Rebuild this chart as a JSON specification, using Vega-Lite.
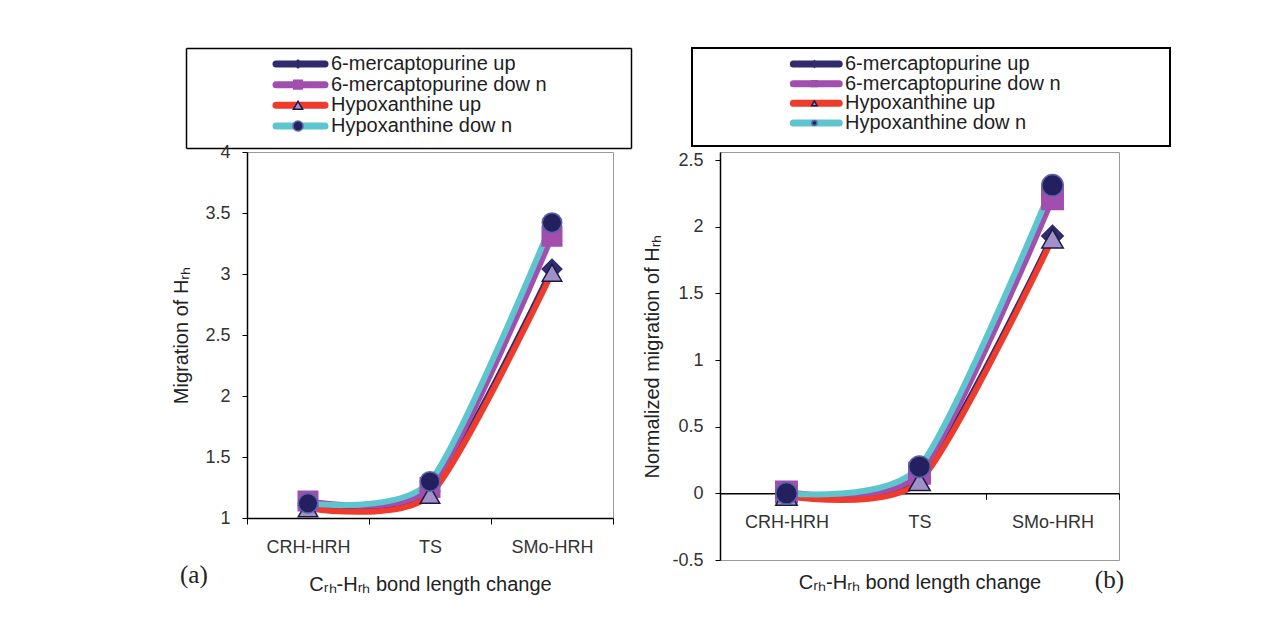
{
  "$schema": "https://vega.github.io/schema/vega-lite/v6.json",
  "background": "white",
  "padding": {"left": 171, "top": 47, "right": 5, "bottom": 5},
  "spacing": -6,
  "resolve": {"scale": {"size": "independent"}},
  "datasets": {
    "leg": [
      {"series": "6-mercaptopurine up"},
      {"series": "6-mercaptopurine dow n"},
      {"series": "Hypoxanthine up"},
      {"series": "Hypoxanthine dow n"}
    ],
    "pts": [
      {"panel": "a", "series": "6-mercaptopurine up", "stage": "CRH-HRH", "value": 1.10},
      {"panel": "a", "series": "6-mercaptopurine up", "stage": "TS", "value": 1.22},
      {"panel": "a", "series": "6-mercaptopurine up", "stage": "SMo-HRH", "value": 3.04},
      {"panel": "a", "series": "6-mercaptopurine dow n", "stage": "CRH-HRH", "value": 1.14},
      {"panel": "a", "series": "6-mercaptopurine dow n", "stage": "TS", "value": 1.25},
      {"panel": "a", "series": "6-mercaptopurine dow n", "stage": "SMo-HRH", "value": 3.31},
      {"panel": "a", "series": "Hypoxanthine up", "stage": "CRH-HRH", "value": 1.08},
      {"panel": "a", "series": "Hypoxanthine up", "stage": "TS", "value": 1.19},
      {"panel": "a", "series": "Hypoxanthine up", "stage": "SMo-HRH", "value": 3.01},
      {"panel": "a", "series": "Hypoxanthine dow n", "stage": "CRH-HRH", "value": 1.12},
      {"panel": "a", "series": "Hypoxanthine dow n", "stage": "TS", "value": 1.30},
      {"panel": "a", "series": "Hypoxanthine dow n", "stage": "SMo-HRH", "value": 3.42},
      {"panel": "b", "series": "6-mercaptopurine up", "stage": "CRH-HRH", "value": 0.0},
      {"panel": "b", "series": "6-mercaptopurine up", "stage": "TS", "value": 0.12},
      {"panel": "b", "series": "6-mercaptopurine up", "stage": "SMo-HRH", "value": 1.93},
      {"panel": "b", "series": "6-mercaptopurine dow n", "stage": "CRH-HRH", "value": 0.01},
      {"panel": "b", "series": "6-mercaptopurine dow n", "stage": "TS", "value": 0.15},
      {"panel": "b", "series": "6-mercaptopurine dow n", "stage": "SMo-HRH", "value": 2.21},
      {"panel": "b", "series": "Hypoxanthine up", "stage": "CRH-HRH", "value": -0.02},
      {"panel": "b", "series": "Hypoxanthine up", "stage": "TS", "value": 0.09},
      {"panel": "b", "series": "Hypoxanthine up", "stage": "SMo-HRH", "value": 1.91},
      {"panel": "b", "series": "Hypoxanthine dow n", "stage": "CRH-HRH", "value": 0.0},
      {"panel": "b", "series": "Hypoxanthine dow n", "stage": "TS", "value": 0.20},
      {"panel": "b", "series": "Hypoxanthine dow n", "stage": "SMo-HRH", "value": 2.31}
    ]
  },
  "vconcat": [
    {
      "hconcat": [
        {
          "width": 384, "height": 100,
          "view": {"stroke": null},
          "data": {"name": "leg"},
          "resolve": {"scale": {"x": "independent", "y": "independent"}, "axis": {"x": "independent", "y": "independent"}},
          "layer": [
            {
              "mark": {"type": "rule", "strokeWidth": 7, "strokeCap": "round"},
              "encoding": {
                "x": {"datum": 90, "type": "quantitative", "scale": {"domain": [0, 445], "range": [-61, 384]},
                  "axis": {"orient": "bottom", "labels": false, "ticks": false, "grid": false, "title": null, "domain": true, "domainColor": "#000000", "domainWidth": 1.5}},
                "x2": {"datum": 139},
                "y": {"field": "series", "type": "nominal",
                  "scale": {"type": "point", "padding": 0.92, "align": 0.42, "domain": ["6-mercaptopurine up", "6-mercaptopurine dow n", "Hypoxanthine up", "Hypoxanthine dow n"]},
                  "axis": {"orient": "left", "offset": 61, "labels": false, "ticks": false, "grid": false, "title": null, "domain": true, "domainColor": "#000000", "domainWidth": 1.5}},
                "color": {"field": "series", "type": "nominal", "legend": null,
                  "scale": {"domain": ["6-mercaptopurine up", "6-mercaptopurine dow n", "Hypoxanthine up", "Hypoxanthine dow n"], "range": ["#2e2b6e", "#a24eae", "#ee3b2c", "#5ec5cf"]}}
              }
            },
            {
              "mark": {"type": "point", "filled": true, "strokeWidth": 1.5, "opacity": 1},
              "encoding": {
                "x": {"datum": 112, "type": "quantitative", "scale": {"domain": [0, 445], "range": [-61, 384]},
                  "axis": {"orient": "top", "labels": false, "ticks": false, "grid": false, "title": null, "domain": true, "domainColor": "#000000", "domainWidth": 1.5}},
                "y": {"field": "series", "type": "nominal",
                  "scale": {"type": "point", "padding": 0.92, "align": 0.42, "domain": ["6-mercaptopurine up", "6-mercaptopurine dow n", "Hypoxanthine up", "Hypoxanthine dow n"]},
                  "axis": {"orient": "right", "labels": false, "ticks": false, "grid": false, "title": null, "domain": true, "domainColor": "#000000", "domainWidth": 1.5}},
                "shape": {"field": "series", "type": "nominal", "legend": null,
                  "scale": {"domain": ["6-mercaptopurine up", "6-mercaptopurine dow n", "Hypoxanthine up", "Hypoxanthine dow n"], "range": ["diamond", "square", "triangle-up", "circle"]}},
                "fill": {"field": "series", "type": "nominal", "legend": null,
                  "scale": {"domain": ["6-mercaptopurine up", "6-mercaptopurine dow n", "Hypoxanthine up", "Hypoxanthine dow n"], "range": ["#2e2b6e", "#a24eae", "#a092c9", "#241f5e"]}},
                "stroke": {"field": "series", "type": "nominal", "legend": null,
                  "scale": {"domain": ["6-mercaptopurine up", "6-mercaptopurine dow n", "Hypoxanthine up", "Hypoxanthine dow n"], "range": ["#2e2b6e", "#a24eae", "#1f1a45", "#5a64a8"]}},
                "size": {"field": "series", "type": "ordinal", "legend": null,
                  "scale": {"domain": ["6-mercaptopurine up", "6-mercaptopurine dow n", "Hypoxanthine up", "Hypoxanthine dow n"], "range": [60, 100, 130, 36]}}
              }
            },
            {
              "mark": {"type": "text", "align": "left", "baseline": "middle", "fontSize": 20, "font": "Liberation Sans", "color": "#1e1e1e"},
              "encoding": {
                "x": {"datum": 145, "type": "quantitative", "scale": {"domain": [0, 445], "range": [-61, 384]}, "axis": null},
                "y": {"field": "series", "type": "nominal",
                  "scale": {"type": "point", "padding": 0.92, "align": 0.42, "domain": ["6-mercaptopurine up", "6-mercaptopurine dow n", "Hypoxanthine up", "Hypoxanthine dow n"]},
                  "axis": null},
                "text": {"field": "series"}
              }
            }
          ]
        },
        {
          "width": 478, "height": 98,
          "view": {"stroke": "black", "strokeWidth": 2},
          "data": {"name": "leg"},
          "encoding": {
            "y": {"field": "series", "type": "nominal",
              "scale": {"type": "point", "padding": 0, "domain": ["6-mercaptopurine up", "6-mercaptopurine dow n", "Hypoxanthine up", "Hypoxanthine dow n"], "range": [16, 75]},
              "axis": null}
          },
          "layer": [
            {
              "mark": {"type": "rule", "strokeWidth": 7, "strokeCap": "round"},
              "encoding": {
                "x": {"datum": 106, "type": "quantitative", "scale": {"domain": [0, 478]}, "axis": null},
                "x2": {"datum": 154},
                "color": {"field": "series", "type": "nominal", "legend": null,
                  "scale": {"domain": ["6-mercaptopurine up", "6-mercaptopurine dow n", "Hypoxanthine up", "Hypoxanthine dow n"], "range": ["#2e2b6e", "#a24eae", "#ee3b2c", "#5ec5cf"]}}
              }
            },
            {
              "mark": {"type": "point", "filled": true, "strokeWidth": 1.5, "opacity": 1},
              "encoding": {
                "x": {"datum": 128, "type": "quantitative"},
                "shape": {"field": "series", "type": "nominal", "legend": null,
                  "scale": {"domain": ["6-mercaptopurine up", "6-mercaptopurine dow n", "Hypoxanthine up", "Hypoxanthine dow n"], "range": ["diamond", "square", "triangle-up", "circle"]}},
                "fill": {"field": "series", "type": "nominal", "legend": null,
                  "scale": {"domain": ["6-mercaptopurine up", "6-mercaptopurine dow n", "Hypoxanthine up", "Hypoxanthine dow n"], "range": ["#2e2b6e", "#a24eae", "#a092c9", "#241f5e"]}},
                "stroke": {"field": "series", "type": "nominal", "legend": null,
                  "scale": {"domain": ["6-mercaptopurine up", "6-mercaptopurine dow n", "Hypoxanthine up", "Hypoxanthine dow n"], "range": ["#2e2b6e", "#a24eae", "#1f1a45", "#5a64a8"]}},
                "size": {"field": "series", "type": "ordinal", "legend": null,
                  "scale": {"domain": ["6-mercaptopurine up", "6-mercaptopurine dow n", "Hypoxanthine up", "Hypoxanthine dow n"], "range": [40, 25, 120, 150]}}
              }
            },
            {
              "mark": {"type": "text", "align": "left", "baseline": "middle", "fontSize": 20, "font": "Liberation Sans", "color": "#1e1e1e"},
              "encoding": {
                "x": {"datum": 160, "type": "quantitative"},
                "text": {"field": "series"}
              }
            }
          ]
        }
      ],
      "spacing": -38,
      "resolve": {"scale": {"size": "independent", "x": "independent", "y": "independent"}}
    },
    {
      "hconcat": [
        {
          "width": 366, "height": 366,
          "data": {"name": "pts"},
          "transform": [{"filter": "datum.panel === 'a'"}],
          "title": {"text": "(a)", "orient": "bottom", "anchor": "start", "frame": "bounds", "font": "Liberation Serif", "fontSize": 25, "fontWeight": "normal", "color": "#222", "offset": -31, "dx": 8},
          "encoding": {
            "x": {"field": "stage", "type": "nominal", "sort": ["CRH-HRH", "TS", "SMo-HRH"], "bandPosition": 0.5,
              "scale": {"type": "band", "paddingInner": 0, "paddingOuter": 0},
              "axis": {"title": "Cᵣₕ-Hᵣₕ bond length change", "labelAngle": 0, "tickBand": "extent", "tickSize": 6, "labelPadding": 14, "titlePadding": 18, "domainWidth": 1.5}},
            "y": {"field": "value", "type": "quantitative",
              "scale": {"domain": [1, 4], "nice": false, "zero": false},
              "axis": {"values": [1, 1.5, 2, 2.5, 3, 3.5, 4], "labelExpr": "'' + datum.value", "title": "Migration of Hᵣₕ", "tickSize": 5, "labelPadding": 12, "titlePadding": 13, "domainWidth": 1.5}}
          },
          "layer": [
            {
              "mark": {"type": "line", "interpolate": "cardinal", "tension": 0.3, "strokeWidth": 6, "strokeCap": "round"},
              "encoding": {
                "color": {"field": "series", "type": "nominal", "legend": null,
                  "scale": {"domain": ["6-mercaptopurine up", "6-mercaptopurine dow n", "Hypoxanthine up", "Hypoxanthine dow n"], "range": ["#2e2b6e", "#a24eae", "#ee3b2c", "#5ec5cf"]}}
              }
            },
            {
              "mark": {"type": "point", "filled": true, "size": 380, "strokeWidth": 1.5, "opacity": 1},
              "encoding": {
                "shape": {"field": "series", "type": "nominal", "legend": null,
                  "scale": {"domain": ["6-mercaptopurine up", "6-mercaptopurine dow n", "Hypoxanthine up", "Hypoxanthine dow n"], "range": ["diamond", "square", "triangle-up", "circle"]}},
                "fill": {"field": "series", "type": "nominal", "legend": null,
                  "scale": {"domain": ["6-mercaptopurine up", "6-mercaptopurine dow n", "Hypoxanthine up", "Hypoxanthine dow n"], "range": ["#2e2b6e", "#a24eae", "#a092c9", "#241f5e"]}},
                "stroke": {"field": "series", "type": "nominal", "legend": null,
                  "scale": {"domain": ["6-mercaptopurine up", "6-mercaptopurine dow n", "Hypoxanthine up", "Hypoxanthine dow n"], "range": ["#2e2b6e", "#a24eae", "#1f1a45", "#5a64a8"]}}
              }
            }
          ]
        },
        {
          "width": 399, "height": 408,
          "data": {"name": "pts"},
          "transform": [{"filter": "datum.panel === 'b'"}],
          "title": {"text": "(b)", "orient": "bottom", "anchor": "end", "frame": "group", "font": "Liberation Serif", "fontSize": 25, "fontWeight": "normal", "color": "#222", "offset": -24, "dx": 5},
          "encoding": {
            "x": {"field": "stage", "type": "nominal", "sort": ["CRH-HRH", "TS", "SMo-HRH"], "bandPosition": 0.5,
              "scale": {"type": "band", "paddingInner": 0, "paddingOuter": 0},
              "axis": {"title": "Cᵣₕ-Hᵣₕ bond length change", "labelAngle": 0, "tickBand": "extent", "tickSize": 6, "labelPadding": 14, "titlePadding": 41, "offset": -66.7, "domainWidth": 1.5}},
            "y": {"field": "value", "type": "quantitative",
              "scale": {"domain": [-0.5, 2.56], "nice": false, "zero": false},
              "axis": {"values": [-0.5, 0, 0.5, 1, 1.5, 2, 2.5], "labelExpr": "'' + datum.value", "title": "Normalized migration of Hᵣₕ", "tickSize": 5, "labelPadding": 12, "titlePadding": 9, "domainWidth": 1.5}}
          },
          "layer": [
            {
              "mark": {"type": "line", "interpolate": "cardinal", "tension": 0.3, "strokeWidth": 6, "strokeCap": "round"},
              "encoding": {
                "color": {"field": "series", "type": "nominal", "legend": null,
                  "scale": {"domain": ["6-mercaptopurine up", "6-mercaptopurine dow n", "Hypoxanthine up", "Hypoxanthine dow n"], "range": ["#2e2b6e", "#a24eae", "#ee3b2c", "#5ec5cf"]}}
              }
            },
            {
              "mark": {"type": "point", "filled": true, "size": 460, "strokeWidth": 1.5, "opacity": 1},
              "encoding": {
                "shape": {"field": "series", "type": "nominal", "legend": null,
                  "scale": {"domain": ["6-mercaptopurine up", "6-mercaptopurine dow n", "Hypoxanthine up", "Hypoxanthine dow n"], "range": ["diamond", "square", "triangle-up", "circle"]}},
                "fill": {"field": "series", "type": "nominal", "legend": null,
                  "scale": {"domain": ["6-mercaptopurine up", "6-mercaptopurine dow n", "Hypoxanthine up", "Hypoxanthine dow n"], "range": ["#2e2b6e", "#a24eae", "#a092c9", "#241f5e"]}},
                "stroke": {"field": "series", "type": "nominal", "legend": null,
                  "scale": {"domain": ["6-mercaptopurine up", "6-mercaptopurine dow n", "Hypoxanthine up", "Hypoxanthine dow n"], "range": ["#2e2b6e", "#a24eae", "#1f1a45", "#5a64a8"]}}
              }
            }
          ]
        }
      ],
      "spacing": 28,
      "resolve": {"scale": {"size": "independent"}}
    }
  ],
  "config": {
    "font": "Liberation Sans",
    "view": {"stroke": "#9a9a9a", "strokeWidth": 1},
    "axis": {
      "labelFont": "Liberation Sans", "labelFontSize": 18, "labelColor": "#333333",
      "titleFont": "Liberation Sans", "titleFontSize": 20, "titleFontWeight": "normal", "titleColor": "#222222",
      "domainColor": "#000000", "tickColor": "#000000", "grid": false
    }
  }
}
